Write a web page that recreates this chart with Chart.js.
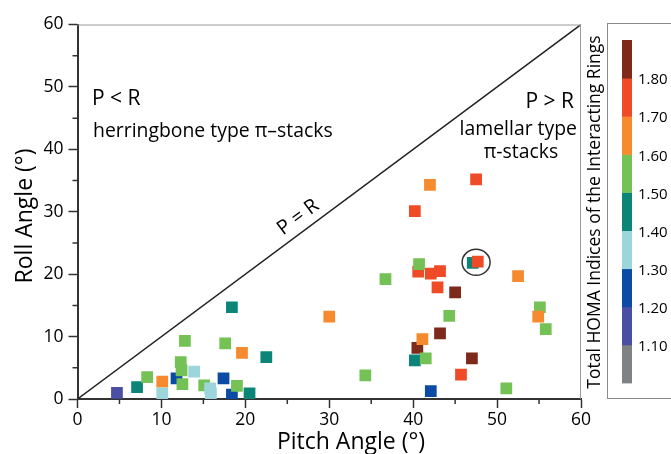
<!DOCTYPE html>
<html><head><meta charset="utf-8">
<script src="https://cdn.jsdelivr.net/npm/chart.js@4.4.1/dist/chart.umd.min.js"></script>
<style>html,body{margin:0;padding:0;background:#fff}#wrap{width:671px;height:454px}</style>
</head><body><div id="wrap"><canvas id="c" width="671" height="454"></canvas></div>
<script>
// ---- data ----
const pitch = [4.7, 7.1, 8.3, 10.1, 10.1, 11.8, 12.4, 12.5, 12.3, 12.8, 13.9, 15.1, 15.8, 15.9, 17.4, 17.6, 18.4, 19.0, 19.6, 20.5, 22.5, 18.4,
  42.0, 47.5, 40.2, 47.1, 47.7, 40.6, 40.7, 42.1, 43.2, 52.5, 36.7, 42.9, 45.0, 55.1, 54.9, 55.8, 30.0, 44.3, 43.2, 40.5, 41.1, 40.2, 41.5, 47.0, 34.3, 45.7, 42.1, 51.1];
const roll = [1.0, 1.9, 3.5, 2.8, 0.9, 3.3, 4.6, 2.4, 5.9, 9.3, 4.4, 2.2, 1.7, 0.9, 3.3, 8.9, 0.7, 2.1, 7.4, 0.9, 6.7, 14.7,
  34.3, 35.2, 30.1, 21.8, 22.0, 20.4, 21.6, 20.1, 20.5, 19.7, 19.2, 17.9, 17.1, 14.7, 13.2, 11.2, 13.2, 13.3, 10.5, 8.2, 9.6, 6.2, 6.5, 6.5, 3.8, 3.9, 1.25, 1.7];
const homa = [1.15, 1.45, 1.55, 1.65, 1.35, 1.25, 1.55, 1.55, 1.55, 1.55, 1.35, 1.55, 1.35, 1.35, 1.25, 1.55, 1.25, 1.55, 1.65, 1.45, 1.45, 1.45,
  1.65, 1.75, 1.75, 1.45, 1.75, 1.75, 1.55, 1.75, 1.75, 1.65, 1.55, 1.75, 1.85, 1.55, 1.65, 1.55, 1.65, 1.55, 1.85, 1.85, 1.65, 1.45, 1.55, 1.85, 1.55, 1.75, 1.25, 1.55];
const diagX = [0, 60];
const diagY = [0, 60];
const highlight = {x: 47.5, y: 21.9};
const axisTicks = [0, 10, 20, 30, 40, 50, 60];
const minorTicks = [5, 15, 25, 35, 45, 55];
const cbMin = 1.0, cbStep = 0.1;
const cbColors = ['#7f8282', '#4b4fa3', '#0b4ba5', '#9dd6da', '#0c8578', '#74c256', '#f68a2e', '#ef4b27', '#7d2a1b'];
const cbLabels = ['1.10', '1.20', '1.30', '1.40', '1.50', '1.60', '1.70', '1.80'];

const FONT = "'Open Sans', 'DejaVu Sans', sans-serif";
function colorFor(v) {
  let i = Math.floor((v - cbMin) / cbStep + 1e-9);
  i = Math.max(0, Math.min(cbColors.length - 1, i));
  return cbColors[i];
}
const pts = pitch.map((p, i) => ({x: p, y: roll[i]}));
const ptColors = homa.map(colorFor);

const deco = {
  id: 'deco',
  afterDatasetsDraw(chart) {
    const ctx = chart.ctx, xs = chart.scales.x, ys = chart.scales.y, a = chart.chartArea;
    ctx.save();
    // top and right frame
    ctx.strokeStyle = '#9a9a9a'; ctx.lineWidth = 1;
    ctx.beginPath();
    ctx.moveTo(a.left, a.top + 0.5); ctx.lineTo(a.right, a.top + 0.5);
    ctx.moveTo(a.right - 0.5, a.top); ctx.lineTo(a.right - 0.5, a.bottom);
    ctx.stroke();
    // minor ticks
    ctx.strokeStyle = '#333'; ctx.lineWidth = 1.5;
    ctx.beginPath();
    minorTicks.forEach(v => {
      const px = xs.getPixelForValue(v);
      ctx.moveTo(px, a.bottom); ctx.lineTo(px, a.bottom + 5);
      const py = ys.getPixelForValue(v);
      ctx.moveTo(a.left, py); ctx.lineTo(a.left - 5, py);
    });
    ctx.stroke();
    // highlight circle
    const hx = xs.getPixelForValue(highlight.x), hy = ys.getPixelForValue(highlight.y);
    ctx.strokeStyle = '#333'; ctx.lineWidth = 1.5;
    ctx.beginPath(); ctx.ellipse(hx, hy, 14, 13, 0, 0, Math.PI * 2); ctx.stroke();
    // axis titles
    ctx.fillStyle = '#000';
    ctx.textBaseline = 'middle';
    ctx.textAlign = 'center';
    ctx.font = '23px ' + FONT;
    ctx.fillText('Pitch Angle (\u00b0)', 351, 442);
    ctx.save();
    ctx.translate(25, 216);
    ctx.rotate(-Math.PI / 2);
    ctx.fillText('Roll Angle (\u00b0)', 0, 0);
    ctx.restore();
    // texts
    ctx.textAlign = 'left';
    ctx.font = '21px ' + FONT;
    ctx.fillText('P < R', 92, 99);
    ctx.font = '19.4px ' + FONT;
    ctx.fillText('herringbone type \u03c0\u2013stacks', 93, 131);
    ctx.textAlign = 'right';
    ctx.font = '21px ' + FONT;
    ctx.fillText('P > R', 574, 102);
    ctx.font = '19.4px ' + FONT;
    ctx.fillText('lamellar type', 577, 129);
    ctx.textAlign = 'center';
    ctx.fillText('\u03c0-stacks', 521, 152);
    // P = R along diagonal
    const x0 = xs.getPixelForValue(diagX[0]), y0 = ys.getPixelForValue(diagY[0]);
    const x1 = xs.getPixelForValue(diagX[1]), y1 = ys.getPixelForValue(diagY[1]);
    const ang = Math.atan2(y1 - y0, x1 - x0);
    const fx = xs.getPixelForValue(27.3), fy = ys.getPixelForValue(27.3);
    const nx = Math.sin(ang), ny = -Math.cos(ang);
    ctx.translate(fx + nx * 14, fy + ny * 14);
    ctx.rotate(ang);
    ctx.font = '20px ' + FONT;
    ctx.fillText('P = R', 0, 0);
    ctx.restore();

    // colorbar
    ctx.save();
    ctx.strokeStyle = '#8a8a8a'; ctx.lineWidth = 1;
    ctx.strokeRect(607.5, 23.5, 80, 375);
    const top = 40, segH = 38.1, bx = 622, bw = 10;
    const n = cbColors.length;
    for (let i = 0; i < n; i++) {
      ctx.fillStyle = cbColors[i];
      const yTop = top + (n - 1 - i) * segH;
      ctx.fillRect(bx, yTop, bw, segH + 0.5);
    }
    ctx.fillStyle = '#000';
    ctx.font = '15px ' + FONT;
    ctx.textAlign = 'left'; ctx.textBaseline = 'middle';
    cbLabels.forEach((l, i) => {
      const yb = top + (n - 1 - i) * segH;
      ctx.fillText(l, 638, yb + 2);
    });
    ctx.translate(595, 212);
    ctx.rotate(-Math.PI / 2);
    ctx.textAlign = 'center';
    ctx.font = '17.5px ' + FONT;
    ctx.fillText('Total HOMA Indices of the Interacting Rings', 0, 0);
    ctx.restore();
  }
};

new Chart(document.getElementById('c'), {
  type: 'scatter',
  data: {
    datasets: [
      {
        data: pts,
        pointStyle: 'rect',
        pointRadius: 8.3,
        pointHoverRadius: 8.3,
        pointBackgroundColor: ptColors,
        pointBorderWidth: 0,
        borderWidth: 0
      },
      {
        type: 'line',
        data: diagX.map((v, i) => ({x: v, y: diagY[i]})),
        borderColor: '#222',
        borderWidth: 1.5,
        pointRadius: 0,
        fill: false
      }
    ]
  },
  options: {
    responsive: false,
    devicePixelRatio: 1,
    animation: false,
    events: [],
    layout: {padding: {top: 24.5, right: 90, left: 0, bottom: 0}},
    plugins: {legend: {display: false}, tooltip: {enabled: false}},
    scales: {
      x: {
        type: 'linear', min: 0, max: 60,
        afterBuildTicks: s => { s.ticks = axisTicks.map(v => ({value: v})); },
        afterFit: s => { s.height = 55; },
        ticks: {font: {family: FONT, size: 17.5}, color: '#000', padding: 2},
        grid: {drawOnChartArea: false, drawTicks: true, tickLength: 9, tickColor: '#333', tickWidth: 1.5},
        border: {display: true, color: '#333', width: 2},
        title: {display: false}
      },
      y: {
        type: 'linear', min: 0, max: 60,
        afterBuildTicks: s => { s.ticks = axisTicks.map(v => ({value: v})); },
        afterFit: s => { s.width = 77.5; },
        ticks: {font: {family: FONT, size: 17.5}, color: '#000', padding: 5},
        grid: {drawOnChartArea: false, drawTicks: true, tickLength: 9, tickColor: '#333', tickWidth: 1.5},
        border: {display: true, color: '#333', width: 2},
        title: {display: false}
      }
    }
  },
  plugins: [deco]
});
</script>
</body></html>
